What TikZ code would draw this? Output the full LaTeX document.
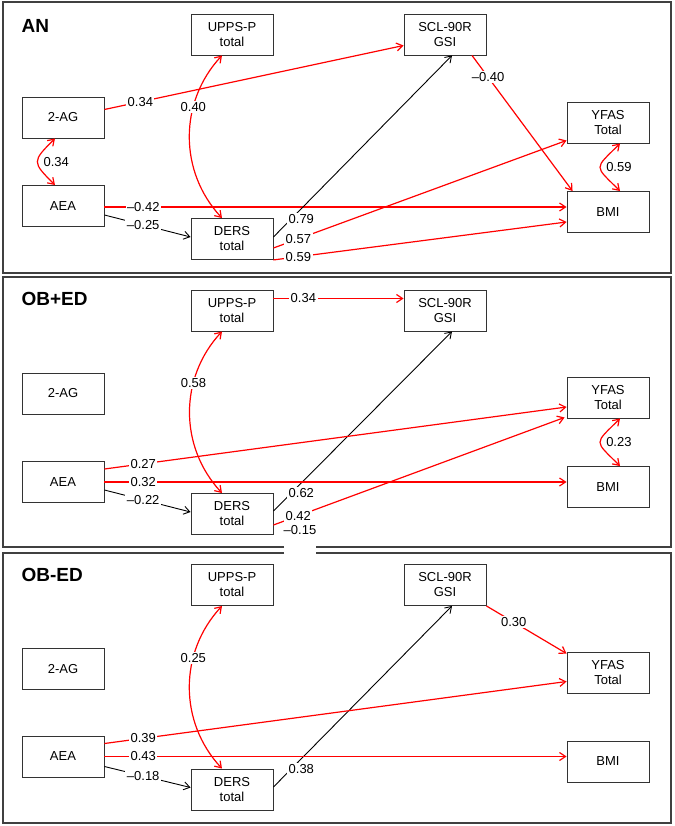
\documentclass[tikz,border=0pt]{standalone}
\usepackage{fontspec}
\setmainfont{Liberation Sans}
\usetikzlibrary{arrows.meta,calc}
\begin{document}
\begin{tikzpicture}[x=1pt,y=1pt,
  lbl/.style={font=\fontsize{13}{15}\selectfont},
  box/.style={draw=black!80, line width=0.9pt, minimum width=82pt, minimum height=41pt, inner sep=0pt, align=center, lbl},
  tip/.style={-{Straight Barb[length=6pt,width=8pt]}},
  r/.style={draw=red, line width=1.2pt, tip},
  k/.style={draw=black, line width=0.9pt, tip},
  r2/.style={draw=red, line width=1.2pt, {Straight Barb[length=6pt,width=8pt]}-{Straight Barb[length=6pt,width=8pt]}},
  lab/.style={fill=white, inner sep=1.5pt, lbl},
  klab/.style={lab, pos=0.1, xshift=10pt},
  title/.style={anchor=west, font=\fontsize{19}{21}\selectfont\bfseries},
  frame/.style={draw=black!75, line width=1.4pt}]
\useasboundingbox (0,0) rectangle (674,-826);
% frames
\draw[frame] (3,-2) rectangle (671,-273);
\draw[frame] (284,-547) -- (3,-547) -- (3,-277) -- (671,-277) -- (671,-547) -- (316,-547);
\draw[frame] (284,-553) -- (3,-553) -- (3,-823) -- (671,-823) -- (671,-553) -- (316,-553);

% ---------------- Panel AN
\begin{scope}[yshift=-2pt]
\node[title] (tA) at (18,-24) {AN};
\node[box] (aU) at (232,-32.5) {UPPS-P\\total};
\node[box] (aS) at (445,-32.5) {SCL-90R\\GSI};
\node[box] (aG) at (63,-115.5) {2-AG};
\node[box] (aA) at (63,-204) {AEA};
\node[box] (aY) at (608,-120.5) {YFAS\\Total};
\node[box] (aB) at (608,-210) {BMI};
\node[box] (aD) at (232,-237) {DERS\\total};
\draw[r] ($(aG.east)+(0,8)$) -- node[lab,pos=0.12]{0.34} ($(aS.west)+(0,-11)$);
\draw[r2] ($(aU.south)+(-10,0)$) to[bend right=43] node[lab,pos=0.33]{0.40} ($(aD.north)+(-10,0)$);
\draw[r] ($(aS.south)+(27,0)$) -- node[lab,pos=0.16]{–0.40} ($(aB.north west)+(6,0)$);
\draw[r2] ($(aY.south)+(12,0)$) to[out=-135,in=135,looseness=2] node[right=2pt,lbl]{0.59} ($(aB.north)+(12,0)$);
\draw[r2] ($(aG.south)+(-8,0)$) to[out=-135,in=135,looseness=1.8] node[right=2pt,lbl]{0.34} ($(aA.north)+(-8,0)$);
\draw[r] ($(aA.east)+(0,-1)$) -- node[lab,pos=0.084]{–0.42} ($(aB.west)+(0,5)$);
\draw[k] ($(aA.east)+(0,-9)$) -- node[lab,pos=0.45]{–0.25} ($(aD.west)+(0,2)$);
\draw[k] ($(aD.east)+(0,2)$) -- node[klab]{0.79} ($(aS.south)+(7,0)$);
\draw[r] ($(aD.east)+(0,-9)$) -- node[lab,pos=0.085]{0.57} ($(aY.south west)+(0,3)$);
\draw[r] ($(aD.south east)+(0,0)$) -- node[lab,pos=0.085]{0.59} ($(aB.west)+(0,-10)$);
\end{scope}

% ---------------- Panel OB+ED
\begin{scope}[yshift=-277pt]
\node[title] (tB) at (18,-22) {OB+ED};
\node[box] (bU) at (232,-33.5) {UPPS-P\\total};
\node[box] (bS) at (445,-33.5) {SCL-90R\\GSI};
\node[box] (bG) at (63,-116.5) {2-AG};
\node[box] (bA) at (63,-205) {AEA};
\node[box] (bY) at (608,-120.5) {YFAS\\Total};
\node[box] (bB) at (608,-210) {BMI};
\node[box] (bD) at (232,-237) {DERS\\total};
\draw[r] ($(bU.east)+(0,12)$) -- node[lab,pos=0.23]{0.34} ($(bS.west)+(0,12)$);
\draw[r2] ($(bU.south)+(-10,0)$) to[bend right=43] node[lab,pos=0.33]{0.58} ($(bD.north)+(-10,0)$);
\draw[k] ($(bD.east)+(0,3)$) -- node[klab]{0.62} ($(bS.south)+(7,0)$);
\draw[r] ($(bA.east)+(0,13)$) -- node[lab,pos=0.084]{0.27} ($(bY.west)+(0,-9.5)$);
\draw[r] (bA.east) -- node[lab,pos=0.084]{0.32} (bA.east -| bB.west);
\draw[k] ($(bA.east)+(0,-8)$) -- node[lab,pos=0.45]{–0.22} ($(bD.west)+(0,2)$);
\draw[r2] ($(bY.south)+(12,0)$) to[out=-135,in=135,looseness=2] node[right=2pt,lbl]{0.23} ($(bB.north)+(12,0)$);
\draw[r] ($(bD.east)+(0,-11)$) -- node[lab,pos=0.085]{0.42} ($(bY.south west)+(-2,1)$);
\node[lbl] (bx) at (300,-253) {–0.15};
\end{scope}

% ---------------- Panel OB-ED
\begin{scope}[yshift=-553pt]
\node[title] (tC) at (18,-22) {OB-ED};
\node[box] (cU) at (232,-32) {UPPS-P\\total};
\node[box] (cS) at (445,-32) {SCL-90R\\GSI};
\node[box] (cG) at (63,-116) {2-AG};
\node[box] (cA) at (63,-203.5) {AEA};
\node[box] (cY) at (608,-119.5) {YFAS\\Total};
\node[box] (cB) at (608,-208.5) {BMI};
\node[box] (cD) at (232,-236.5) {DERS\\total};
\draw[r2] ($(cU.south)+(-10,0)$) to[bend right=43] node[lab,pos=0.33]{0.25} ($(cD.north)+(-10,0)$);
\draw[r] (cS.south east) -- node[lab,pos=0.34]{0.30} ($(cY.north west)+(0,-2)$);
\draw[k] ($(cD.east)+(0,2.5)$) -- node[klab]{0.38} ($(cS.south)+(7,0)$);
\draw[r] ($(cA.east)+(0,13)$) -- node[lab,pos=0.084]{0.39} ($(cY.west)+(0,-9)$);
\draw[r] (cA.east) -- node[lab,pos=0.084]{0.43} (cA.east -| cB.west);
\draw[k] ($(cA.east)+(0,-10)$) -- node[lab,pos=0.45]{–0.18} ($(cD.west)+(0,2)$);
\end{scope}
\end{tikzpicture}
\end{document}
